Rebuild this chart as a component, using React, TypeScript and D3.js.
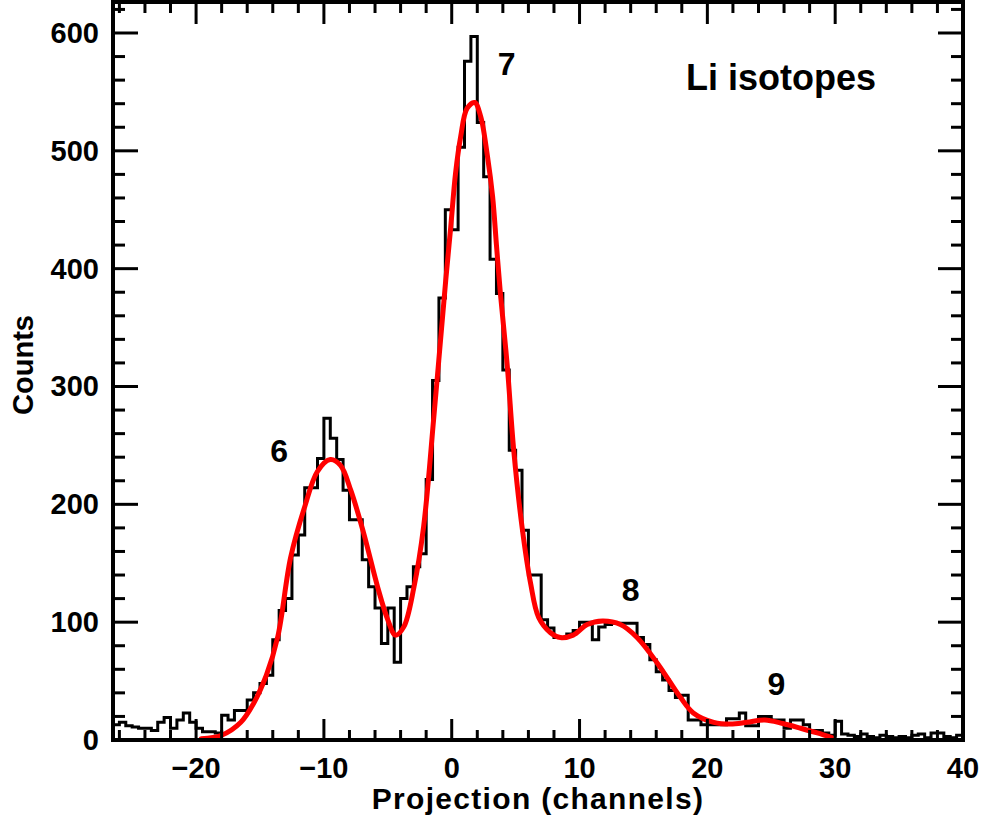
import React from "react";
import * as d3 from "d3";

// Histogram: bin width 0.5 channel, first bin starts at -26.5
const binStart = -26.5;
const binWidth = 0.5;
const counts = [
  13, 15, 12, 11, 10, 10, 8, 15, 19, 10,
  17, 23, 15, 10, 7, 7, 6, 21, 17, 25,
  25, 34, 40, 48, 55, 85, 110, 120, 157, 174,
  214, 214, 239, 273, 256, 238, 212, 187, 187, 153,
  130, 112, 82, 112, 66, 120, 130, 147, 158, 221,
  305, 375, 450, 433, 503, 576, 597, 524, 478, 408,
  379, 314, 246, 229, 178, 140, 140, 102, 95, 87,
  87, 90, 93, 100, 100, 85, 96, 98, 99, 99,
  99, 99, 87, 81, 68, 58, 51, 42, 36, 38,
  17, 17, 13, 13, 13, 13, 18, 18, 23, 12,
  12, 20, 20, 17, 17, 10, 17, 17, 13, 8,
  8, 6, 4, 16, 5, 4, 3, 5, 3, 2,
  4, 3, 2, 3, 2, 4, 5, 2, 6, 6, 3,
  2, 4,
];

// Fit curve points
const fitX = [-19.6, -18, -16.5, -15.5, -14.5, -13.6, -12.6, -11.5, -10.5, -9.5, -8.7, -7.9, -6.9, -5.8, -5.0, -4.4, -3.75, -2.95, -2.2, -1.4, -0.47, -0.08, 0.3, 0.7, 1.2, 1.8, 2.27, 2.8, 3.2, 3.5, 3.8, 4.35, 4.85, 5.5, 6.17, 6.8, 7.73, 8.5, 9.5, 10.6, 11.8, 13.2, 14.5, 16.1, 17.9, 18.9, 20.5, 21.8, 23.1, 24.5, 25.9, 27.3, 28.6, 29.75];
const fitY = [1, 4, 15, 31, 55, 88, 155, 198, 228, 238, 233, 212, 176, 130, 102, 89, 96, 130, 181, 274, 390, 435, 481, 512, 536, 541, 529, 495, 461, 420, 380, 317, 246, 181, 133, 104, 91, 87, 89, 98, 101, 98, 87, 65, 36, 23, 15, 13.5, 15, 17, 14, 10, 6, 2];

const xTickValues = [-20, -10, 0, 10, 20, 30, 40];
const yTickValues = [0, 100, 200, 300, 400, 500, 600];

const peakLabels = ["6", "7", "8", "9"];
const peakLabelX = [-13.5, 4.3, 14, 25.4];
const peakLabelY = [236, 564, 118, 38];

const title = "Li isotopes";
const xTitle = "Projection (channels)";
const yTitle = "Counts";

const W = 988;
const H = 821;
const L = 113, R = 963, T = 2, B = 740;
const FONT = "'Liberation Sans', Arial, Helvetica, sans-serif";

const fmtTick = (v: number) => (v < 0 ? "\u2212" + String(-v) : String(v));

export default function App() {
  const x = d3.scaleLinear().domain([-26.5, 40]).range([L, R]);
  const y = d3.scaleLinear().domain([0, 626.3]).range([B, T]);

  const histPts: [number, number][] = counts.map((c, i) => [binStart + i * binWidth, c]);
  histPts.push([binStart + counts.length * binWidth, counts[counts.length - 1]]);
  const histPath = d3
    .line<[number, number]>()
    .x((d) => x(d[0]))
    .y((d) => y(d[1]))
    .curve(d3.curveStepAfter)(histPts) as string;

  const fitPts: [number, number][] = fitX.map((v, i) => [v, fitY[i]]);
  const fitPath = d3
    .line<[number, number]>()
    .x((d) => x(d[0]))
    .y((d) => y(d[1]))
    .curve(d3.curveCatmullRom.alpha(0.5))(fitPts) as string;

  const xMinor = d3.range(-26, 40.001, 2).filter((v) => Math.abs(v % 10) > 1e-6);
  const yMinor = d3.range(20, 626, 20).filter((v) => v % 100 !== 0);

  const tickW = 3;

  return (
    <svg
      width={W}
      height={H}
      style={{ position: "absolute", left: 0, top: 0, background: "#fff" }}
      fontFamily={FONT}
    >
      <defs>
        <clipPath id="plotclip">
          <rect x={L} y={T} width={R - L} height={B - T} />
        </clipPath>
      </defs>
      <rect x={0} y={0} width={W} height={H} fill="#fff" />
      <g clipPath="url(#plotclip)">
        <path d={histPath} fill="none" stroke="#000" strokeWidth={3} strokeLinejoin="miter" />
        <path d={fitPath} fill="none" stroke="#ff0000" strokeWidth={5} strokeLinecap="round" strokeLinejoin="round" />
      </g>
      {/* ticks */}
      <g stroke="#000" strokeWidth={tickW}>
        {xTickValues.map((v) => (
          <g key={"xm" + v}>
            <line x1={x(v)} x2={x(v)} y1={B} y2={B - 21} />
            <line x1={x(v)} x2={x(v)} y1={T} y2={T + 22} />
          </g>
        ))}
        {xMinor.map((v) => (
          <g key={"xn" + v}>
            <line x1={x(v)} x2={x(v)} y1={B} y2={B - 10} />
            <line x1={x(v)} x2={x(v)} y1={T} y2={T + 11} />
          </g>
        ))}
        {yTickValues.map((v) => (
          <g key={"ym" + v}>
            <line x1={L} x2={L + 25} y1={y(v)} y2={y(v)} />
            <line x1={R} x2={R - 25} y1={y(v)} y2={y(v)} />
          </g>
        ))}
        {yMinor.map((v) => (
          <g key={"yn" + v}>
            <line x1={L} x2={L + 12} y1={y(v)} y2={y(v)} />
            <line x1={R} x2={R - 12} y1={y(v)} y2={y(v)} />
          </g>
        ))}
      </g>
      <rect x={L} y={T} width={R - L} height={B - T} fill="none" stroke="#000" strokeWidth={4} />
      {/* tick labels */}
      <g fontSize={29} fontWeight="bold" fill="#000">
        {xTickValues.map((v) => (
          <text key={"xl" + v} x={x(v)} y={778} textAnchor="middle">
            {fmtTick(v)}
          </text>
        ))}
        {yTickValues.map((v) => (
          <text key={"yl" + v} x={99} y={y(v) + 10} textAnchor="end">
            {fmtTick(v)}
          </text>
        ))}
      </g>
      <text x={(L + R) / 2} y={809} textAnchor="middle" fontSize={30} fontWeight="bold" letterSpacing={1.3}>
        {xTitle}
      </text>
      <text
        transform={`translate(33, ${(T + B) / 2 - 6}) rotate(-90)`}
        textAnchor="middle"
        fontSize={29}
        fontWeight="bold"
      >
        {yTitle}
      </text>
      <text x={686} y={90} fontSize={36} fontWeight="bold">
        {title}
      </text>
      {peakLabels.map((t, i) => (
        <text key={t} x={x(peakLabelX[i])} y={y(peakLabelY[i])} fontSize={32} fontWeight="bold" textAnchor="middle">
          {t}
        </text>
      ))}
    </svg>
  );
}
